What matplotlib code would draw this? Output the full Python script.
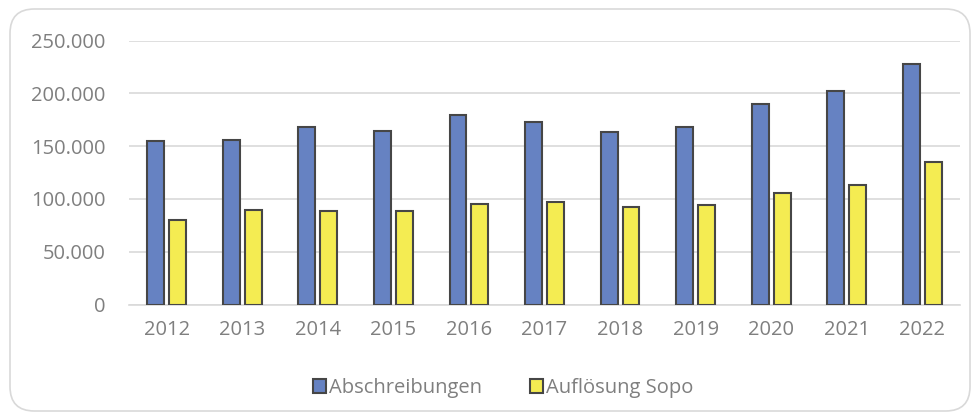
import matplotlib
matplotlib.use("Agg")
import matplotlib.pyplot as plt
import numpy as np
from matplotlib.patches import FancyBboxPatch, Patch
from matplotlib.ticker import FuncFormatter

years = ["2012", "2013", "2014", "2015", "2016", "2017", "2018", "2019", "2020", "2021", "2022"]
abschreibungen = [154800, 156000, 168000, 164000, 179000, 173000, 163000, 168000, 190000, 202500, 228000]
aufloesung_sopo = [80000, 89500, 88500, 89000, 95000, 97000, 92000, 94000, 106000, 113000, 135000]
series_names = ["Abschreibungen", "Auflösung Sopo"]

blue = "#6682C2"
yellow = "#F4EC52"
edge = "#464646"
text_col = "#7F7F7F"
grid_col = "#D9D9D9"

plt.rcParams['font.family'] = ['Open Sans', 'DejaVu Sans']

fig = plt.figure(figsize=(9.75, 4.19), dpi=100)
border = FancyBboxPatch((10/975, 8/419), 960/975, 402/419,
                        boxstyle="round,pad=0,rounding_size=0.025",
                        transform=fig.transFigure, facecolor="none",
                        edgecolor=grid_col, linewidth=1.2, mutation_aspect=975/419)
fig.patches.append(border)

ax = fig.add_axes([129/975, 1-304.5/419, 831/975, 264/419])
ax.set_facecolor("none")
x = np.arange(len(years))
w = 0.225
ax.bar(x - 0.145, abschreibungen, w, color=blue, edgecolor=edge, linewidth=1.5, zorder=3)
ax.bar(x + 0.145, aufloesung_sopo, w, color=yellow, edgecolor=edge, linewidth=1.5, zorder=3)

ax.set_xlim(-0.5, len(years) - 0.5)
ax.set_ylim(0, 250000)
ax.set_yticks(np.arange(0, 250001, 50000))
ax.yaxis.set_major_formatter(FuncFormatter(lambda v, p: f"{int(v):,}".replace(",", ".")))
ax.set_xticks(x)
ax.set_xticklabels(years)
ax.grid(axis="y", color=grid_col, linewidth=1.2, zorder=0)
for s in ["top", "right", "left"]:
    ax.spines[s].set_visible(False)
ax.spines["bottom"].set_color(grid_col)
ax.spines["bottom"].set_linewidth(1.2)
ax.tick_params(axis="both", length=0, labelsize=14.5, colors=text_col)
ax.tick_params(axis="y", pad=17)
ax.tick_params(axis="x", pad=11)

handles = [Patch(facecolor=blue, edgecolor=edge, linewidth=1.5),
           Patch(facecolor=yellow, edgecolor=edge, linewidth=1.5)]
leg = fig.legend(handles, series_names, loc="center", bbox_to_anchor=(503/975, 1-388/419),
                 ncol=2, frameon=False, fontsize=14.5, handlelength=0.65, handleheight=0.65,
                 handletextpad=0.15, columnspacing=2.4)
for t in leg.get_texts():
    t.set_color(text_col)

fig.savefig("out.png", dpi=100)
